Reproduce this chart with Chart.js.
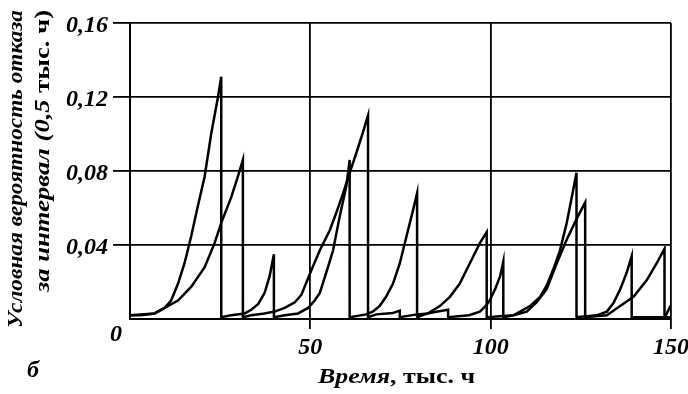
<!DOCTYPE html>
<html>
<head>
<meta charset="utf-8">
<script src="https://cdn.jsdelivr.net/npm/chart.js@4.4.1/dist/chart.umd.min.js"></script>
<style>
  html, body { margin: 0; padding: 0; background: #fff; }
</style>
</head>
<body>
<canvas id="chart" width="688" height="394"></canvas>
<script>
// time, thousand hours / conditional failure probability per 0.5k h interval
const timeA = [0, 3, 6.8, 9.6, 11.4, 13.3, 15.1, 17.0, 18.8, 20.7, 22.5, 24.4, 25.3,
  25.3, 28, 31.8, 33.6, 35.5, 37.3, 38.7, 39.9,
  39.9, 42.9, 46.6, 49.4, 51.2, 52.6, 54.4, 56.3, 58.1, 60.0, 60.9,
  60.9, 65.5, 67.3, 69.2, 71.0, 72.9, 74.8, 76.7, 78.5, 79.6,
  79.6, 82.5, 85.9, 88.7, 91.4, 94.2, 97.0, 98.9,
  98.9, 106.3, 110.9, 113.7, 115.5, 117.4, 119.2, 121.1, 122.5, 123.8,
  123.8, 129.4, 132.2, 134.0, 135.9, 137.7, 139.1,
  139.1, 148.3, 150];
const probA = [0.002, 0.002, 0.003, 0.006, 0.010, 0.019, 0.030, 0.045, 0.061, 0.077, 0.100, 0.120, 0.131,
  0.001, 0.002, 0.003, 0.005, 0.008, 0.014, 0.023, 0.035,
  0.001, 0.002, 0.003, 0.006, 0.010, 0.014, 0.025, 0.037, 0.055, 0.072, 0.086,
  0.001, 0.0025, 0.004, 0.007, 0.012, 0.019, 0.030, 0.045, 0.059, 0.068,
  0.001, 0.003, 0.007, 0.012, 0.019, 0.030, 0.041, 0.047,
  0.001, 0.002, 0.007, 0.012, 0.018, 0.027, 0.037, 0.052, 0.066, 0.079,
  0.001, 0.002, 0.004, 0.0085, 0.016, 0.025, 0.034,
  0.001, 0.001, 0.0075];

const timeB = [0, 6.8, 9.6, 13.3, 17.0, 20.7, 23.45, 25.3, 28.1, 29.9, 31.3,
  31.3, 33.6, 37.3, 40.1, 42.9, 45.7, 47.5, 50.0, 52.6, 55.4, 57.3, 59.1, 60.9, 62.8, 64.6, 66.0,
  66.0, 68.3, 72.9, 74.8,
  74.8, 79.6, 82.5, 85.3, 88.2,
  88.2, 94, 97.0, 98.9, 99.8, 101.2, 102.6, 103.5,
  103.5, 106.3, 110.0, 112.7, 115.5, 118.3, 121.1, 123.8, 126.2,
  126.2, 132.2, 135.9, 139.6, 143.3, 146.0, 148.2,
  148.2, 150];
const probB = [0.002, 0.003, 0.006, 0.010, 0.0175, 0.028, 0.041, 0.052, 0.066, 0.077, 0.086,
  0.001, 0.002, 0.003, 0.004, 0.006, 0.009, 0.013, 0.025, 0.037, 0.048, 0.058, 0.068, 0.079, 0.090, 0.101, 0.110,
  0.001, 0.0025, 0.0033, 0.0045,
  0.001, 0.0025, 0.003, 0.004, 0.005,
  0.001, 0.002, 0.004, 0.0076, 0.0103, 0.016, 0.023, 0.031,
  0.001, 0.002, 0.004, 0.009, 0.016, 0.030, 0.043, 0.054, 0.063,
  0.001, 0.002, 0.007, 0.012, 0.021, 0.030, 0.038,
  0.001, 0.001];

const xTicks = [0, 50, 100, 150];
const yTicks = [0, 0.04, 0.08, 0.12, 0.16];
const zeroLabel = '0';
const panelLetter = 'б';
const xTitleItalic = 'Время';
const xTitlePlain = ', тыс. ч';
const yTitleLine1 = 'Условная вероятность отказа';
const yTitleLine2Italic = 'за интервал (0,5 ';
const yTitleLine2Plain = 'тыс. ч)';

const toPoints = (xs, ys) => xs.map((x, i) => ({ x: x, y: ys[i] }));

const serif = '"Liberation Serif", "Times New Roman", serif';
const tickFont = { family: serif, size: 24, style: 'italic', weight: 'bold' };

// draws mixed-style parts in a row, squeezed/stretched to a target length
function drawParts(ctx, parts, start, y, target) {
  let total = 0;
  parts.forEach(p => { ctx.font = p[1]; total += ctx.measureText(p[0]).width; });
  ctx.save();
  ctx.translate(start, y);
  ctx.scale(target / total, 1);
  ctx.textAlign = 'left';
  let pos = 0;
  parts.forEach(p => {
    ctx.font = p[1];
    ctx.fillText(p[0], pos, 0);
    pos += ctx.measureText(p[0]).width;
  });
  ctx.restore();
}

const textPlugin = {
  id: 'extraText',
  afterDraw(chart) {
    const ctx = chart.ctx;
    const xs = chart.scales.x;
    ctx.save();
    ctx.fillStyle = '#000';
    ctx.textBaseline = 'middle';

    ctx.font = 'italic bold 24px ' + serif;
    ctx.textAlign = 'center';
    ctx.fillText(zeroLabel, xs.getPixelForValue(0) - 14, 335);
    ctx.fillText(panelLetter, 33, 371);

    const fI = 'italic bold 22px ' + serif;
    const fP = 'bold 22px ' + serif;
    drawParts(ctx, [[xTitleItalic, fI], [xTitlePlain, fP]], 318, 377, 157);

    // y title: two rotated lines ending near the top
    ctx.save();
    ctx.translate(16, 10);
    ctx.rotate(-Math.PI / 2);
    drawParts(ctx, [[yTitleLine1, fI]], -318, 0, 318);
    ctx.restore();
    ctx.save();
    ctx.translate(43, 10);
    ctx.rotate(-Math.PI / 2);
    drawParts(ctx, [[yTitleLine2Italic, fI], [yTitleLine2Plain, fP]], -282, 0, 282);
    ctx.restore();
    ctx.restore();
  }
};

const lineStyle = {
  borderColor: '#000',
  borderWidth: 2.5,
  pointRadius: 0,
  tension: 0,
  fill: false
};

new Chart(document.getElementById('chart'), {
  type: 'line',
  data: {
    datasets: [
      Object.assign({ label: 'A', data: toPoints(timeA, probA) }, lineStyle),
      Object.assign({ label: 'B', data: toPoints(timeB, probB) }, lineStyle)
    ]
  },
  options: {
    responsive: false,
    animation: false,
    devicePixelRatio: 1,
    layout: { padding: { top: 23, right: 17, left: 0, bottom: 0 } },
    plugins: { legend: { display: false }, tooltip: { enabled: false } },
    scales: {
      x: {
        type: 'linear',
        min: 0,
        max: 150,
        afterBuildTicks: s => { s.ticks = xTicks.map(v => ({ value: v })); },
        afterFit: s => { s.height = 75; s.paddingLeft = 0; s.paddingRight = 0; },
        ticks: {
          callback: v => (v === 0 ? '' : String(v)),
          font: tickFont,
          color: '#000',
          padding: 4,
          maxRotation: 0
        },
        grid: {
          color: '#000',
          lineWidth: 1.8,
          tickLength: 10,
          tickColor: c => (c.tick && c.tick.value === 0 ? 'rgba(0,0,0,0)' : '#000')
        },
        border: { color: '#000', width: 2 }
      },
      y: {
        min: 0,
        max: 0.16,
        afterBuildTicks: s => { s.ticks = yTicks.map(v => ({ value: v })); },
        afterFit: s => { s.width = 130; s.paddingTop = 0; s.paddingBottom = 0; },
        ticks: {
          callback: v => (v === 0 ? '' : v.toFixed(2).replace('.', ',')),
          font: tickFont,
          color: '#000',
          padding: 5,
          labelOffset: 3
        },
        grid: {
          color: '#000',
          lineWidth: 1.8,
          tickLength: 17,
          tickColor: c => (c.tick && c.tick.value === 0 ? 'rgba(0,0,0,0)' : '#000')
        },
        border: { color: '#000', width: 2 }
      }
    }
  },
  plugins: [textPlugin]
});
</script>
</body>
</html>
